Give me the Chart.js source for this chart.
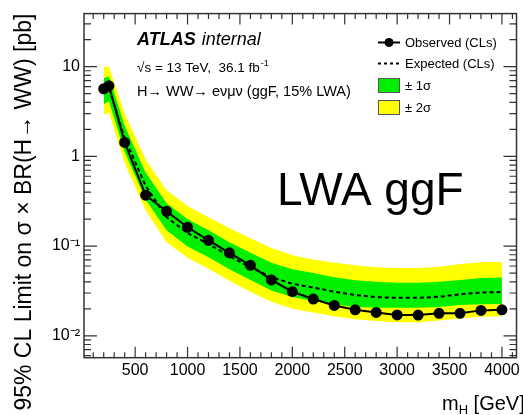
<!DOCTYPE html>
<html>
<head>
<meta charset="utf-8">
<script src="https://cdn.jsdelivr.net/npm/chart.js@4.4.0/dist/chart.umd.min.js"></script>
<style>
    html, body { margin: 0; padding: 0; background: #fff; }
    canvas { display: block; }
</style>
</head>
<body>
<canvas id="limitChart" width="523" height="415"></canvas>
<script>
// Mass points [GeV] and limits [pb]
const massPoints = [200, 250, 400, 600, 800, 1000, 1200, 1400, 1600, 1800, 2000, 2200, 2400, 2600, 2800, 3000, 3200, 3400, 3600, 3800, 4000];
const observedLimit = [5.66, 6.11, 1.43, 0.369, 0.244, 0.162, 0.116, 0.084, 0.061, 0.042, 0.031, 0.0257, 0.0218, 0.0195, 0.0182, 0.0171, 0.0170, 0.0178, 0.0178, 0.0192, 0.0195];
const expectedLimit = [5.4, 5.8, 1.6, 0.47, 0.21, 0.14, 0.105, 0.077, 0.058, 0.045, 0.038, 0.0345, 0.031, 0.0285, 0.027, 0.0265, 0.0265, 0.0272, 0.029, 0.0303, 0.0308];
const oneSigmaUp = [7.4, 7.8, 2.2, 0.66, 0.30, 0.20, 0.15, 0.11, 0.084, 0.065, 0.055, 0.050, 0.045, 0.0415, 0.040, 0.039, 0.039, 0.040, 0.042, 0.044, 0.0445];
const oneSigmaDown = [3.8, 4.1, 1.12, 0.33, 0.15, 0.099, 0.075, 0.055, 0.042, 0.032, 0.027, 0.0245, 0.0225, 0.021, 0.0205, 0.0205, 0.0205, 0.021, 0.022, 0.0225, 0.0226];
const twoSigmaUp = [10, 10, 3.0, 0.92, 0.42, 0.28, 0.21, 0.158, 0.122, 0.095, 0.079, 0.071, 0.065, 0.061, 0.058, 0.057, 0.057, 0.059, 0.063, 0.066, 0.067];
const twoSigmaDown = [2.9, 3.1, 0.85, 0.25, 0.11, 0.074, 0.056, 0.041, 0.031, 0.024, 0.020, 0.0182, 0.0165, 0.0153, 0.0146, 0.0142, 0.0142, 0.0148, 0.0156, 0.0163, 0.0165];

// Axis ticks and labels
const xTickValues = [500, 1000, 1500, 2000, 2500, 3000, 3500, 4000];
const yTickValues = [0.01, 0.1, 1, 10];
const yTickLabels = ["10\u207B\u00B2", "10\u207B\u00B9", "1", "10"];

const FONT = "'Liberation Sans', Arial, sans-serif";

function toPoints(values) {
    return massPoints.map((m, i) => ({ x: m, y: values[i] }));
}

// ROOT-style frame: box with inward ticks on all four sides, plus the text
const atlasFrame = {
    id: "atlasFrame",
    afterDraw(chart) {
        const { ctx, chartArea: a, scales } = chart;
        const xs = scales.x;
        const ys = scales.y;
        ctx.save();
        ctx.strokeStyle = "#333";
        ctx.lineWidth = 1.5;
        ctx.strokeRect(a.left, a.top, a.right - a.left, a.bottom - a.top);

        ctx.lineWidth = 1.2;
        ctx.beginPath();
        for (let m = 100; m < xs.max; m += 100) {
            const px = xs.getPixelForValue(m);
            if (px <= a.left || px >= a.right) continue;
            const len = m % 500 === 0 ? 11 : 5.5;
            ctx.moveTo(px, a.bottom); ctx.lineTo(px, a.bottom - len);
            ctx.moveTo(px, a.top); ctx.lineTo(px, a.top + len);
        }
        for (let e = -3; e <= 1; e++) {
            for (let k = 1; k <= 9; k++) {
                const v = k * Math.pow(10, e);
                if (v < ys.min || v > ys.max) continue;
                const py = ys.getPixelForValue(v);
                const len = k === 1 ? 13 : 7;
                ctx.moveTo(a.left, py); ctx.lineTo(a.left + len, py);
                ctx.moveTo(a.right, py); ctx.lineTo(a.right - len, py);
            }
        }
        ctx.stroke();

        ctx.fillStyle = "#000";
        ctx.textBaseline = "alphabetic";
        ctx.textAlign = "left";

        // ATLAS label
        ctx.font = "italic bold 18px " + FONT;
        ctx.fillText("ATLAS", 137, 45);
        const atlasW = ctx.measureText("ATLAS").width;
        ctx.font = "italic 18px " + FONT;
        ctx.fillText("internal", 137 + atlasW + 6, 45);

        ctx.font = "13.5px " + FONT;
        const lumi = "\u221As = 13 TeV,  36.1 fb";
        ctx.fillText(lumi, 137, 72);
        const lumiW = ctx.measureText(lumi).width;
        ctx.font = "9px " + FONT;
        ctx.fillText("-1", 137 + lumiW + 1, 66);

        ctx.font = "14.5px " + FONT;
        ctx.fillText("H\u2192 WW\u2192 e\u03BD\u03BC\u03BD (ggF, 15% LWA)", 137, 96);

        ctx.font = "46px " + FONT;
        ctx.fillText("LWA ggF", 277, 205);

        // legend
        ctx.lineWidth = 2;
        ctx.strokeStyle = "#000";
        ctx.beginPath();
        ctx.moveTo(378, 42.5); ctx.lineTo(400, 42.5);
        ctx.stroke();
        ctx.beginPath();
        ctx.arc(389, 42.5, 4.5, 0, Math.PI * 2);
        ctx.fill();
        ctx.setLineDash([3, 3]);
        ctx.beginPath();
        ctx.moveTo(378, 63.5); ctx.lineTo(400, 63.5);
        ctx.stroke();
        ctx.setLineDash([]);
        ctx.lineWidth = 1;
        ctx.strokeStyle = "#555";
        ctx.fillStyle = "#00f000";
        ctx.fillRect(378, 78, 22, 15);
        ctx.strokeRect(378.5, 78.5, 21, 14);
        ctx.fillStyle = "#ffff00";
        ctx.fillRect(378, 100, 22, 15);
        ctx.strokeRect(378.5, 100.5, 21, 14);

        ctx.fillStyle = "#000";
        ctx.font = "13px " + FONT;
        ctx.fillText("Observed (CLs)", 405, 47);
        ctx.fillText("Expected (CLs)", 405, 68);
        ctx.fillText("\u00B1 1\u03C3", 405, 90);
        ctx.fillText("\u00B1 2\u03C3", 405, 112);

        // x axis title with subscript
        ctx.font = "20px " + FONT;
        ctx.fillText("m", 442, 410);
        const mW = ctx.measureText("m").width;
        ctx.font = "13px " + FONT;
        ctx.fillText("H", 442 + mW, 414);
        const hW = ctx.measureText("H").width;
        ctx.font = "20px " + FONT;
        ctx.fillText(" [GeV]", 442 + mW + hW, 410);
        ctx.restore();
    }
};

const chart = new Chart(document.getElementById("limitChart"), {
    type: "line",
    data: {
        datasets: [
            {
                label: "Observed (CLs)",
                data: toPoints(observedLimit),
                borderColor: "#000",
                backgroundColor: "#000",
                borderWidth: 2,
                pointRadius: 4.5,
                fill: false,
                order: 0
            },
            {
                label: "Expected (CLs)",
                data: toPoints(expectedLimit),
                borderColor: "#000",
                borderWidth: 2,
                borderDash: [4, 3],
                pointRadius: 0,
                fill: false,
                order: 1
            },
            {
                label: "+1 sigma",
                data: toPoints(oneSigmaUp),
                borderWidth: 0,
                pointRadius: 0,
                backgroundColor: "#00f000",
                fill: 3,
                order: 2
            },
            {
                label: "-1 sigma",
                data: toPoints(oneSigmaDown),
                borderWidth: 0,
                pointRadius: 0,
                fill: false,
                order: 2
            },
            {
                label: "+2 sigma",
                data: toPoints(twoSigmaUp),
                borderWidth: 0,
                pointRadius: 0,
                backgroundColor: "#ffff00",
                fill: 5,
                order: 3
            },
            {
                label: "-2 sigma",
                data: toPoints(twoSigmaDown),
                borderWidth: 0,
                pointRadius: 0,
                fill: false,
                order: 3
            }
        ]
    },
    options: {
        responsive: false,
        animation: false,
        devicePixelRatio: 1,
        layout: { padding: { top: 9.5, right: 4, left: 0, bottom: 0 } },
        plugins: {
            legend: { display: false },
            tooltip: { enabled: false }
        },
        scales: {
            x: {
                type: "linear",
                min: 12,
                max: 4139,
                grid: { display: false, drawTicks: false, tickLength: 0 },
                border: { display: false },
                afterBuildTicks: (s) => { s.ticks = xTickValues.map(v => ({ value: v })); },
                afterFit: (s) => { s.height = 57.3; },
                ticks: {
                    color: "#000",
                    padding: 3,
                    maxRotation: 0,
                    autoSkip: false,
                    font: { family: FONT, size: 16 },
                    callback: (v) => String(v)
                }
            },
            y: {
                type: "logarithmic",
                min: 0.0057,
                max: 39,
                grid: { display: false, drawTicks: false, tickLength: 0 },
                border: { display: false },
                afterBuildTicks: (s) => { s.ticks = yTickValues.map(v => ({ value: v })); },
                afterFit: (s) => { s.width = 84; },
                ticks: {
                    color: "#000",
                    padding: 4,
                    autoSkip: false,
                    font: { family: FONT, size: 16 },
                    callback: (v) => {
                        const i = yTickValues.indexOf(v);
                        return i >= 0 ? yTickLabels[i] : "";
                    }
                },
                title: {
                    display: true,
                    text: "95% CL Limit on \u03C3 \u00D7 BR(H\u2192 WW) [pb]",
                    align: "end",
                    color: "#000",
                    padding: { top: 11, bottom: 0 },
                    font: { family: FONT, size: 23 }
                }
            }
        }
    },
    plugins: [atlasFrame]
});
</script>
</body>
</html>
